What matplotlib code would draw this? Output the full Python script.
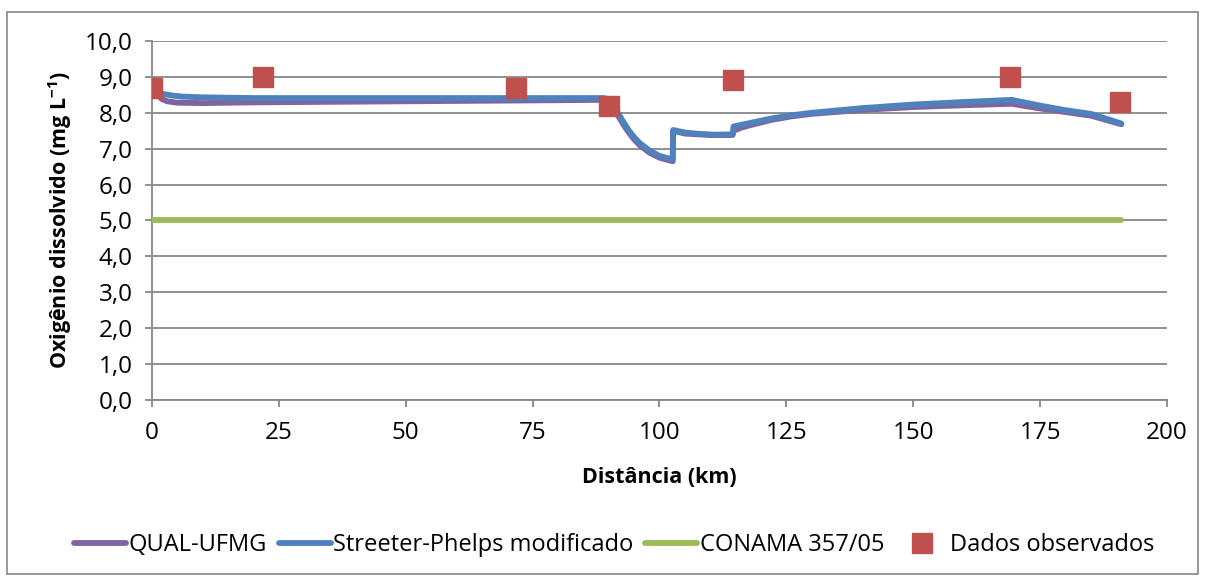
import matplotlib.pyplot as plt
from matplotlib.patches import Rectangle

plt.rcParams['font.family'] = ['Open Sans', 'DejaVu Sans']
plt.rcParams['mathtext.fontset'] = 'custom'
plt.rcParams['mathtext.rm'] = 'Open Sans'
plt.rcParams['mathtext.bf'] = 'Open Sans:bold'

# Streeter-Phelps modificado (blue)
sp_x = [0, 1, 2, 4, 6, 10, 15, 20, 30, 50, 70, 89, 90, 91, 92, 93, 94, 95, 96, 98, 100, 102, 102.6,
        102.7, 105, 108, 111, 114.4, 114.6, 118, 122, 126, 130, 140, 150, 160, 169.4,
        175, 180, 185, 191]
sp_y = [8.68, 8.58, 8.53, 8.48, 8.45, 8.43, 8.42, 8.41, 8.41, 8.41, 8.41, 8.41, 8.38, 8.18, 7.95,
        7.72, 7.50, 7.32, 7.17, 6.95, 6.80, 6.72, 6.70,
        7.52, 7.45, 7.41, 7.39, 7.40, 7.62, 7.72, 7.84, 7.93, 8.00, 8.13, 8.23, 8.30, 8.36,
        8.20, 8.07, 7.97, 7.70]

# QUAL-UFMG (purple)
qu_x = [0, 1, 2, 3, 5, 10, 20, 40, 60, 80, 89, 90, 91, 92, 93, 94, 95, 96, 98, 100, 102, 102.6,
        102.7, 105, 110, 114.4, 114.6, 116, 118, 122, 126, 130, 140, 150, 160, 169.4,
        175, 180, 185, 191]
qu_y = [8.68, 8.50, 8.38, 8.32, 8.28, 8.27, 8.29, 8.31, 8.33, 8.35, 8.36, 8.33, 8.12, 7.88,
        7.65, 7.44, 7.26, 7.11, 6.89, 6.75, 6.67, 6.65,
        7.50, 7.42, 7.38, 7.38, 7.50, 7.58, 7.66, 7.80, 7.90, 7.97, 8.08, 8.16, 8.21, 8.25,
        8.12, 8.02, 7.92, 7.68]

# CONAMA 357/05 limit
conama_x = [0, 191]
conama_y = [5.0, 5.0]

# observed data
obs_x = [0, 21.9, 71.7, 90, 114.5, 169, 190.7]
obs_y = [8.7, 9.0, 8.7, 8.2, 8.9, 9.0, 8.29]

fig = plt.figure(figsize=(12.05, 5.82), dpi=100)
ax = fig.add_axes([0.1261, 0.3127, 0.8424, 0.6169])

ax.plot(qu_x, qu_y, color='#8064A2', lw=4.2, label='QUAL-UFMG', solid_capstyle='round', zorder=3)
ax.plot(sp_x, sp_y, color='#4F81BD', lw=4.2, label='Streeter-Phelps modificado', solid_capstyle='round', zorder=4)
ax.plot(conama_x, conama_y, color='#9BBB59', lw=4.2, label='CONAMA 357/05', solid_capstyle='round', zorder=3)
ax.plot(obs_x, obs_y, ls='none', marker='s', ms=14, color='#C0504D', mec='#C0504D',
        label='Dados observados', zorder=5)

ax.set_xlim(0, 200)
ax.set_ylim(0, 10)
ax.set_xticks(range(0, 201, 25))
ax.set_yticks(range(0, 11))
ax.set_yticklabels(['%d,0' % v for v in range(0, 11)])
ax.grid(axis='y', color='#878787', lw=1.3)
ax.set_axisbelow(True)
for s in ['top', 'right']:
    ax.spines[s].set_visible(False)
for s in ['left', 'bottom']:
    ax.spines[s].set_color('#878787')
    ax.spines[s].set_linewidth(1.3)
ax.tick_params(direction='out', length=5, width=1.3, color='#878787', labelsize=17.5)
ax.tick_params(axis='y', pad=9)
ax.tick_params(axis='x', pad=10)

ax.set_xlabel('Distância (km)', fontsize=15.5, fontweight='bold', labelpad=16)
ax.set_ylabel(r'Oxigênio dissolvido (mg L$^{\mathbf{-1}}$)', fontsize=15.5, fontweight='bold', labelpad=8)

fig.legend(loc='center', bbox_to_anchor=(0.51, 0.063), ncol=4, frameon=False, fontsize=17,
           handlelength=2.2, handletextpad=0.1, columnspacing=0.5)

fig.patches.append(Rectangle((0.006, 0.013), 0.988, 0.966, transform=fig.transFigure,
                             fill=False, ec='#888888', lw=1.2))

fig.savefig('out.png', dpi=100)
